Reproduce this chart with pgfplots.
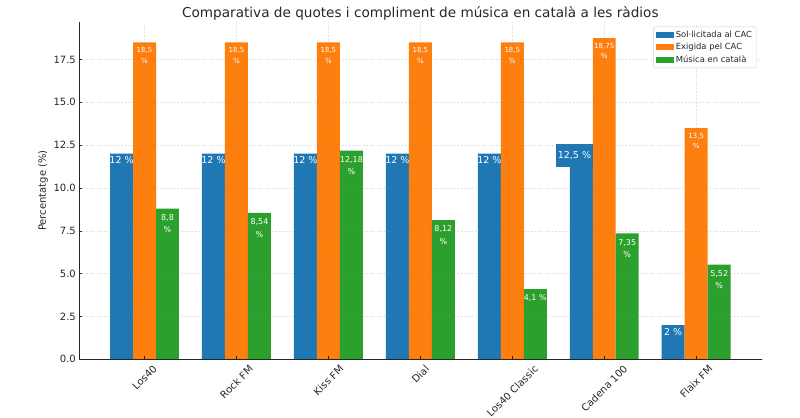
\documentclass[border=0pt]{standalone}
\usepackage{fontspec}
\setmainfont{DejaVu Sans}
\usepackage{graphicx}
\usepackage{pgfplots}
\pgfplotsset{compat=1.18}
\definecolor{cblue}{HTML}{1F77B4}
\definecolor{corange}{HTML}{FF7F0E}
\definecolor{cgreen}{HTML}{2CA02C}
\definecolor{ctext}{HTML}{262626}
\begin{document}
\begin{tikzpicture}
\path[use as bounding box] (0,0) rectangle (800bp,-418bp);
\begin{axis}[
  at={(79bp,-359.3bp)}, anchor=south west,
  scale only axis, width=682.7bp, height=337.3bp,
  xmin=-0.7125, xmax=6.7125, ymin=0, ymax=19.6875,
  ybar, bar width=0.25,
  axis x line*=bottom, axis y line*=left,
  axis line style={ctext, line width=0.8bp},
  axis on top,
  xtick={0,1,2,3,4,5,6},
  xticklabels={\rotatebox{45}{Los40},\rotatebox{45}{Rock FM},\rotatebox{45}{Kiss FM},\rotatebox{45}{Dial},\rotatebox{45}{Los40 Classic},\rotatebox{45}{Cadena 100},\rotatebox{45}{Flaix FM}},
  xticklabel style={anchor=north, inner sep=0pt, yshift=-5bp, font=\fontsize{10bp}{12bp}\selectfont, text=ctext},
  ytick={0,2.5,5,7.5,10,12.5,15,17.5},
  yticklabel style={anchor=east, inner sep=0pt, xshift=-3bp, font=\fontsize{10bp}{12bp}\selectfont, text=ctext,
     /pgf/number format/.cd, fixed, fixed zerofill, precision=1, assume math mode=true},
  tick align=inside, major tick length=3bp, tick style={ctext, line width=0.6bp},
  grid=major, grid style={gray, opacity=0.22, dash pattern=on 2bp off 1.5bp, line width=0.6bp},
  every axis y label/.style={at={(axis description cs:-0.0527,0.5)}, rotate=90, anchor=center, font=\fontsize{10bp}{12bp}\selectfont, text=ctext},
  ylabel={Percentatge (\%)},
  every axis title/.style={at={(axis description cs:0.5,1)}, anchor=base, yshift=5bp, font=\fontsize{13.6bp}{16bp}\selectfont, text=ctext},
  title={Comparativa de quotes i compliment de música en català a les ràdios},
  legend image code/.code={\fill[#1, sharp corners] (0bp,-3bp) rectangle (18bp,3bp);},
  legend cell align=left,
  legend style={at={(0.9927,0.986)}, anchor=north east, font=\fontsize{8.4bp}{10bp}\selectfont, text=ctext,
     draw=gray!35, rounded corners=2bp, row sep=0.5bp, inner xsep=2.5bp, inner ysep=2bp},
]
\addplot[fill=cblue, draw=none, bar shift=-0.25] coordinates {(0,12) (1,12) (2,12) (3,12) (4,12) (5,12.5) (6,2)};
\addplot[fill=corange, draw=none, bar shift=0] coordinates {(0,18.5) (1,18.5) (2,18.5) (3,18.5) (4,18.5) (5,18.75) (6,13.5)};
\addplot[fill=cgreen, draw=none, bar shift=0.25] coordinates {(0,8.8) (1,8.54) (2,12.18) (3,8.12) (4,4.1) (5,7.35) (6,5.52)};
\legend{Sol·licitada al CAC, Exigida pel CAC, Música en català}

% blue labels
\tikzset{bl/.style={anchor=north, text=white, inner sep=0pt, yshift=-3bp, font=\fontsize{9.5bp}{11bp}\selectfont}}
\node[bl] at (axis cs:-0.25,12) {12 \%};
\node[bl] at (axis cs:0.75,12) {12 \%};
\node[bl] at (axis cs:1.75,12) {12 \%};
\node[bl] at (axis cs:2.75,12) {12 \%};
\node[bl] at (axis cs:3.75,12) {12 \%};
\node[anchor=north, text=white, fill=cblue, inner xsep=2bp, inner ysep=7.5bp, font=\fontsize{9.5bp}{11bp}\selectfont] at (axis cs:4.676,12.57) {12,5 \%};
\node[bl] at (axis cs:5.75,2) {2 \%};
% orange labels
\tikzset{ol/.style={anchor=north, text=white, inner sep=0pt, yshift=-5bp, align=center, font=\fontsize{7bp}{10.3bp}\selectfont}}
\node[ol] at (axis cs:0,18.5) {18,5\\\%};
\node[ol] at (axis cs:1,18.5) {18,5\\\%};
\node[ol] at (axis cs:2,18.5) {18,5\\\%};
\node[ol] at (axis cs:3,18.5) {18,5\\\%};
\node[ol] at (axis cs:4,18.5) {18,5\\\%};
\node[ol] at (axis cs:5,18.75) {18,75\\\%};
\node[ol] at (axis cs:6,13.5) {13,5\\\%};
% green labels
\tikzset{gl/.style={anchor=north, text=white, inner sep=0pt, yshift=-5.5bp, align=center, font=\fontsize{8bp}{12.5bp}\selectfont}}
\node[gl] at (axis cs:0.25,8.8) {8,8\\\%};
\node[gl] at (axis cs:1.25,8.54) {8,54\\\%};
\node[gl] at (axis cs:2.25,12.18) {12,18\\\%};
\node[gl] at (axis cs:3.25,8.12) {8,12\\\%};
\node[gl] at (axis cs:4.25,4.1) {4,1 \%};
\node[gl] at (axis cs:5.25,7.35) {7,35\\\%};
\node[gl] at (axis cs:6.25,5.52) {5,52\\\%};
\end{axis}
\end{tikzpicture}
\end{document}
